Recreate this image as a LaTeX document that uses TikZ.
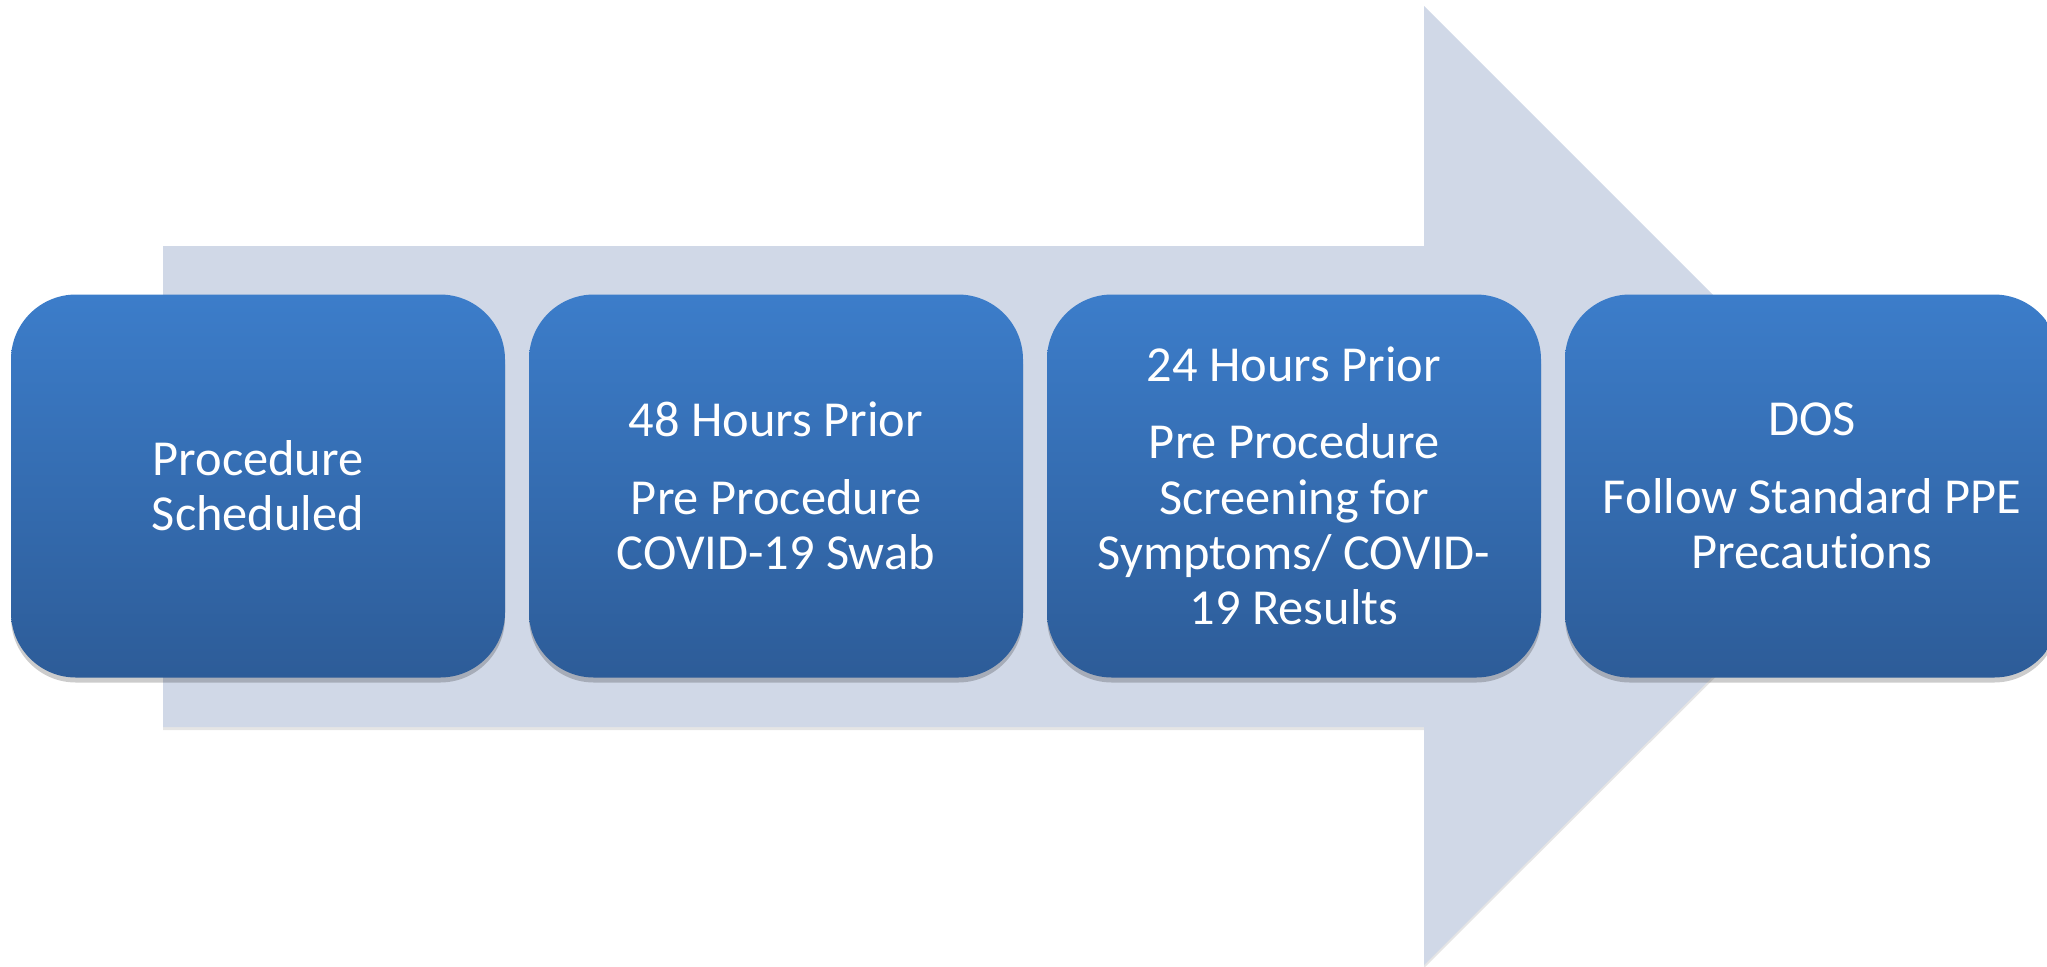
\documentclass[tikz,border=0pt]{standalone}
\usepackage{tikz}
\usepackage{xcolor}
\usepackage{fontspec}
\setmainfont[Ligatures=NoCommon]{Carlito}
\usetikzlibrary{shadows}

\begin{document}
\begin{tikzpicture}[x=0.5pt,y=-0.5pt,
  stepbox/.style={rectangle,rounded corners=32.5pt,minimum width=247pt,minimum height=191.5pt,
    inner sep=0pt,align=center,text=white,font=\fontsize{25.2}{27.6}\selectfont,
    top color=boxtop,bottom color=boxbottom,
    drop shadow={shadow xshift=0pt,shadow yshift=-2.5pt,opacity=0.2,fill=black}}]
\definecolor{boxtop}{HTML}{3C7DCA}
\definecolor{boxbottom}{HTML}{2D5C98}
\definecolor{arrowgray}{HTML}{D0D8E7}
\clip (0,0) rectangle (2047,966);
\fill[white] (0,0) rectangle (2047,966);
  % big arrow behind the steps
  \fill[arrowgray,drop shadow={shadow xshift=0pt,shadow yshift=-1.5pt,opacity=0.2}]
    (163,246) -- (1424,246) -- (1424,6) -- (1904,486) -- (1424,965) -- (1424,727) -- (163,727) -- cycle;
  \foreach \nm/\pos/\txt in {sched/258/{Procedure\\Scheduled},
      swab/776/{48 Hours Prior\\[11pt]Pre Procedure\\COVID-19 Swab},
      screen/1294/{24 Hours Prior\\[11pt]Pre Procedure\\Screening for\\Symptoms/ COVID-\\19 Results},
      dos/1812/{DOS\\[11pt]Follow Standard PPE\\Precautions}}
  {  \node [stepbox] (\nm) at (\pos,486) {\txt};}
\end{tikzpicture}
\end{document}
